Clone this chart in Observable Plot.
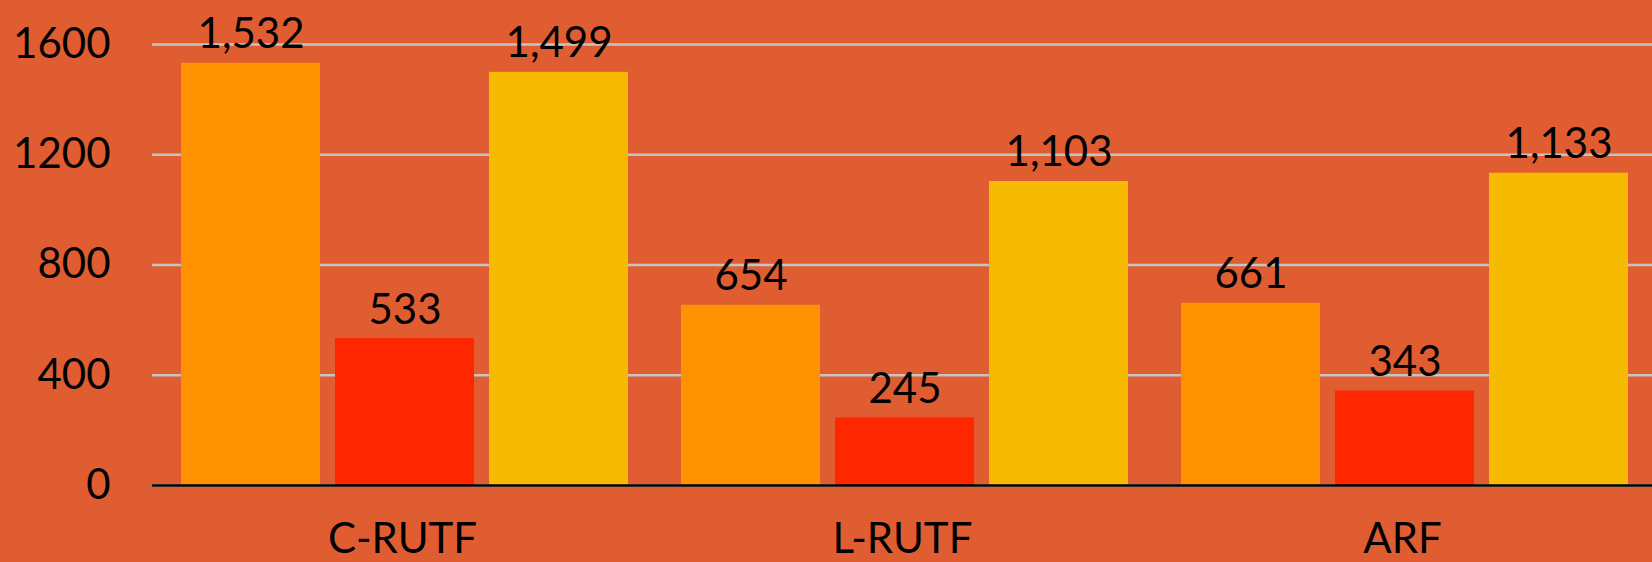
<!DOCTYPE html>
<html>
<head>
<meta charset="utf-8">
<script src="https://cdn.jsdelivr.net/npm/d3@7"></script>
<script src="https://cdn.jsdelivr.net/npm/@observablehq/plot@0.6"></script>
<style>
  html, body { margin: 0; padding: 0; background: #E05D32; }
  #chart svg { display: block; }
</style>
</head>
<body>
<div id="chart"></div>
<script>
const categories = ["C-RUTF", "L-RUTF", "ARF"];
const series = ["Series 1", "Series 2", "Series 3"];
const series1 = [1532, 654, 661];
const series2 = [533, 245, 343];
const series3 = [1499, 1103, 1133];
const yTicks = [0, 400, 800, 1200, 1600];
const colors = ["#FF9200", "#FF2700", "#F6BB00"];

const values = [series1, series2, series3];
const data = [];
categories.forEach((c, i) => {
  series.forEach((s, j) => data.push({category: c, series: s, value: values[j][i]}));
});

const chart = Plot.plot({
  width: 1652,
  height: 562,
  marginLeft: 152,
  marginRight: 0,
  marginTop: 44,
  marginBottom: 77,
  style: {background: "#E05D32", fontFamily: "Lato, sans-serif", fontSize: "42px", color: "black"},
  fx: {domain: categories, padding: 0, label: null, tickSize: 0, tickPadding: 38, axis: "bottom"},
  x: {domain: series, paddingInner: 0.1, paddingOuter: 0.17, align: 0.55, axis: null},
  y: {domain: [0, 1600], ticks: yTicks, tickSize: 0, tickPadding: 42, label: null, tickFormat: d => String(d)},
  color: {domain: series, range: colors},
  marks: [
    Plot.gridY(yTicks, {stroke: "#C4C4C4", strokeOpacity: 1, strokeWidth: 2.5}),
    Plot.barY(data, {fx: "category", x: "series", y: "value", fill: "series"}),
    Plot.ruleY([0], {stroke: "black", strokeWidth: 2.5}),
    Plot.text(data, {fx: "category", x: "series", y: "value", text: d => d3.format(",")(d.value), lineAnchor: "bottom", dy: -15, fill: "black", fontSize: 42})
  ]
});
document.getElementById("chart").appendChild(chart);
</script>
</body>
</html>
